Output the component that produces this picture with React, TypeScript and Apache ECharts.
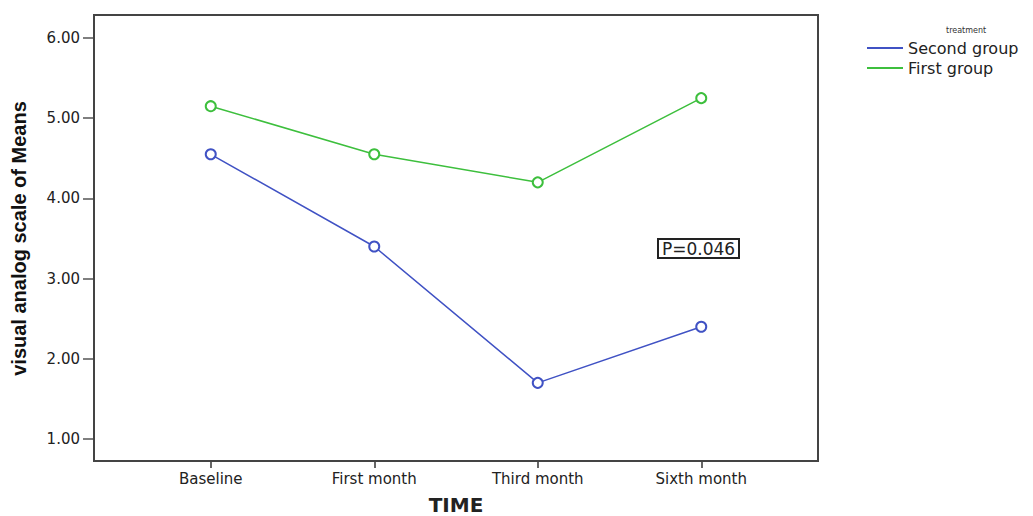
import React, { useEffect, useRef } from "react";
import * as echarts from "echarts";

const categories = ["Baseline", "First month", "Third month", "Sixth month"];
const secondGroup = [4.55, 3.4, 1.7, 2.4];
const firstGroup = [5.15, 4.55, 4.2, 5.25];
const yMin = 1;
const yMax = 6;
const yInterval = 1;

export default function App() {
  const ref = useRef<HTMLDivElement>(null);
  useEffect(() => {
    if (!ref.current) return;
    const chart = echarts.init(ref.current, null, { renderer: "svg" });
    const labelFont = "DejaVu Sans, Liberation Sans, Arial, sans-serif";
    chart.setOption({
      animation: false,
      backgroundColor: "#ffffff",
      title: [
        {
          text: "treatment",
          left: 946,
          top: 26,
          padding: 0,
          textStyle: { fontSize: 8, fontWeight: "normal", color: "#333", fontFamily: labelFont },
        },
        {
          text: "P=0.046",
          left: 658,
          top: 239,
          padding: [1, 4, 1, 4],
          borderColor: "#222",
          borderWidth: 2,
          textStyle: { fontSize: 17, fontWeight: "normal", color: "#222", fontFamily: labelFont },
        },
      ],
      legend: {
        orient: "vertical",
        left: 867,
        top: 40,
        padding: 0,
        itemGap: 4,
        itemWidth: 36,
        itemHeight: 2,
        icon: "rect",
        data: ["Second group", "First group"],
        textStyle: { fontSize: 16, color: "#222", fontFamily: labelFont },
      },
      grid: { left: 129, width: 654, top: 38, height: 401, outerBoundsMode: "none", containLabel: false },
      graphic: [
        {
          type: "rect",
          shape: { x: 94, y: 15, width: 724, height: 446 },
          style: { fill: "none", stroke: "#444", lineWidth: 2 },
          z: 10,
          silent: true,
        },
      ],
      xAxis: {
        type: "category",
        data: categories,
        boundaryGap: true,
        offset: 22,
        axisLine: { show: false },
        axisTick: { show: true, alignWithLabel: true, length: 7, lineStyle: { color: "#333", width: 1.5 } },
        axisLabel: { margin: 10, fontSize: 15, color: "#222", fontFamily: labelFont },
        splitLine: { show: false },
        name: "TIME",
        nameLocation: "middle",
        nameGap: 34,
        nameTextStyle: { fontSize: 20, fontWeight: "bold", color: "#222", fontFamily: labelFont },
      },
      yAxis: {
        type: "value",
        min: yMin,
        max: yMax,
        interval: yInterval,
        offset: 35,
        axisLine: { show: false },
        axisTick: { show: true, length: 11, lineStyle: { color: "#555", width: 1.5 } },
        axisLabel: {
          margin: 14,
          fontSize: 15,
          color: "#222",
          fontFamily: labelFont,
          formatter: (v: number) => v.toFixed(2),
        },
        splitLine: { show: false },
        name: "visual analog scale of Means",
        nameLocation: "middle",
        nameRotate: 90,
        nameGap: 65,
        nameTextStyle: { fontSize: 20, fontWeight: "bold", color: "#111", fontFamily: "Liberation Sans, Arial, sans-serif" },
      },
      series: [
        {
          name: "Second group",
          type: "line",
          data: secondGroup,
          symbol: "emptyCircle",
          symbolSize: 10,
          color: "#4052c4",
          lineStyle: { width: 1.5, color: "#4052c4" },
          itemStyle: { color: "#4052c4", borderWidth: 1.3 },
        },
        {
          name: "First group",
          type: "line",
          data: firstGroup,
          symbol: "emptyCircle",
          symbolSize: 10,
          color: "#3dbf3d",
          lineStyle: { width: 1.5, color: "#3dbf3d" },
          itemStyle: { color: "#3dbf3d", borderWidth: 1.3 },
        },
      ],
    });
    return () => chart.dispose();
  }, []);
  return (
    <div
      ref={ref}
      style={{ position: "absolute", left: 0, top: 0, width: 1033, height: 516 }}
    />
  );
}
